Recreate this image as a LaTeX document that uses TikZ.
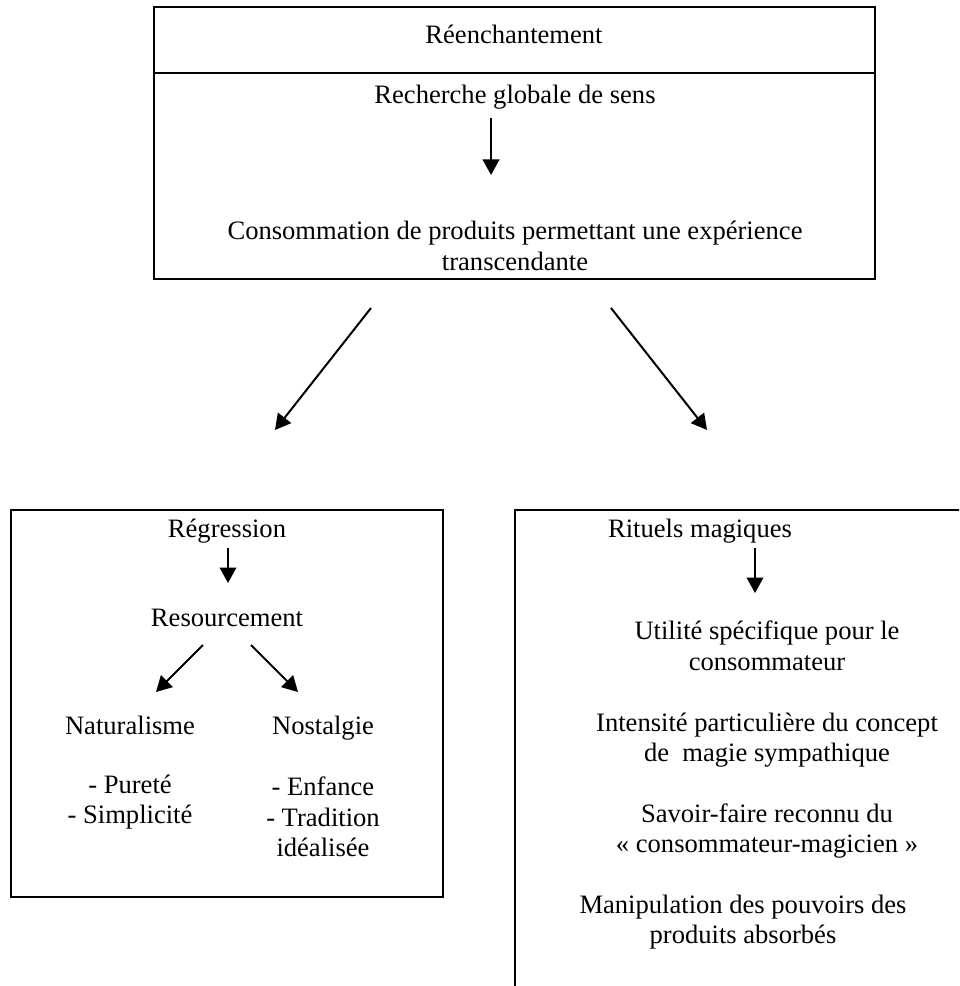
\documentclass[tikz,border=0pt]{standalone}
\usepackage{fontspec}
\setmainfont{Liberation Serif}
\usetikzlibrary{arrows.meta}

\begin{document}
\begin{tikzpicture}[x=0.015875cm, y=-0.015875cm,
    box/.style={line width=1.1pt},
    arr/.style={line width=0.9pt, -{Triangle[length=7pt,width=7.5pt]}},
    txt/.style={inner sep=0pt, align=center, font={\fontsize{12}{13.8}\selectfont}}]
  \useasboundingbox (0,0) rectangle (959,986);
  \clip (0,0) rectangle (959,986);
  % Top box, header line under the title
  \draw[box] (154,7) rectangle (875,279);
  \draw[box] (154,73) -- (875,73);
  \node[txt] (reench) at (514,34) {Réenchantement};
  \node[txt] (rech) at (515,97) {Recherche globale de sens};
  \node[txt] (conso) at (515,246) {Consommation de produits permettant une expérience\\transcendante};
  % Left box: regression
  \draw[box] (11,510) rectangle (443,897);
  \node[txt] (regr) at (227,531) {Régression};
  \node[txt] (resour) at (227,618) {Resourcement};
  \node[txt, anchor=base] (natur) at (130,734) {Naturalisme};
  \node[txt, anchor=base] (nostal) at (323,734) {Nostalgie};
  \node[txt] (purete) at (130,802) {- Pureté\\- Simplicité};
  \node[txt] (enfance) at (323,817) {- Enfance\\- Tradition\\idéalisée};
  % Right box: runs off the page to the right and below
  \draw[box] (1000,510) -- (515,510) -- (515,1000);
  \node[txt] (rituels) at (700,531) {Rituels magiques};
  \node[txt] (utilite) at (767,646) {Utilité spécifique pour le\\consommateur};
  \node[txt] (intens) at (767,740) {Intensité particulière du concept\\de~~magie sympathique};
  \node[txt] (savoir) at (767,831) {Savoir-faire reconnu du\\« consommateur-magicien »};
  \node[txt] (manip) at (743,922) {Manipulation des pouvoirs des\\produits absorbés};
  % Arrow end points
  \coordinate (a1s) at (491,118);  \coordinate (a1e) at (491,175);
  \coordinate (bls) at (371,308);  \coordinate (ble) at (275,430);
  \coordinate (brs) at (611,308);  \coordinate (bre) at (707,430);
  \coordinate (a2s) at (228,548);  \coordinate (a2e) at (228,583);
  \coordinate (sls) at (203,645);  \coordinate (sle) at (156,692);
  \coordinate (srs) at (251,645);  \coordinate (sre) at (298,692);
  \coordinate (a3s) at (755,548);  \coordinate (a3e) at (755,593);
  % Arrows
  \draw[arr] (a1s) -- (a1e);
  \draw[arr] (bls) -- (ble);
  \draw[arr] (brs) -- (bre);
  \draw[arr] (a2s) -- (a2e);
  \draw[arr] (sls) -- (sle);
  \draw[arr] (srs) -- (sre);
  \draw[arr] (a3s) -- (a3e);
\end{tikzpicture}
\end{document}
